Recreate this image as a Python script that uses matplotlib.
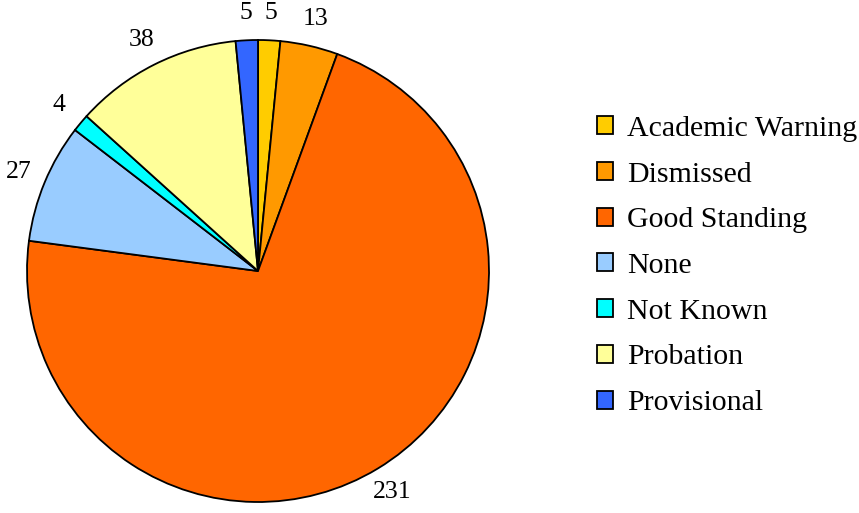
import matplotlib.pyplot as plt

# data
labels = ["Academic Warning", "Dismissed", "Good Standing", "None",
          "Not Known", "Probation", "Provisional"]
values = [5, 13, 231, 27, 4, 38, 5]
colors = ["#FFCC00", "#FF9900", "#FF6600", "#99CCFF",
          "#00FFFF", "#FFFF99", "#3366FF"]

plt.rcParams["font.family"] = ["Liberation Serif", "DejaVu Serif"]

fig = plt.figure(figsize=(8.59, 5.13), dpi=100)
ax = fig.add_axes([27 / 859, 11 / 513, 462 / 859, 462 / 513])

wedges, texts = ax.pie(
    values,
    labels=[str(v) for v in values],
    colors=colors,
    startangle=90,
    counterclock=False,
    labeldistance=1.12,
    wedgeprops={"edgecolor": "black", "linewidth": 1.3},
    textprops={"fontsize": 18.5},
)
for t in texts:
    t.set_ha("center")
    t.set_va("center")
ax.set_xlim(-1, 1)
ax.set_ylim(-1, 1)
ax.set_aspect("equal")

fig.legend(
    wedges, labels,
    loc="center left",
    bbox_to_anchor=(597 / 859, 1 - 266 / 513),
    frameon=False,
    fontsize=21.5,
    borderpad=0,
    borderaxespad=0,
    handlelength=0.55,
    handleheight=0.55,
    handletextpad=0.45,
    labelspacing=0.66,
)

fig.savefig("out.png", dpi=100)
